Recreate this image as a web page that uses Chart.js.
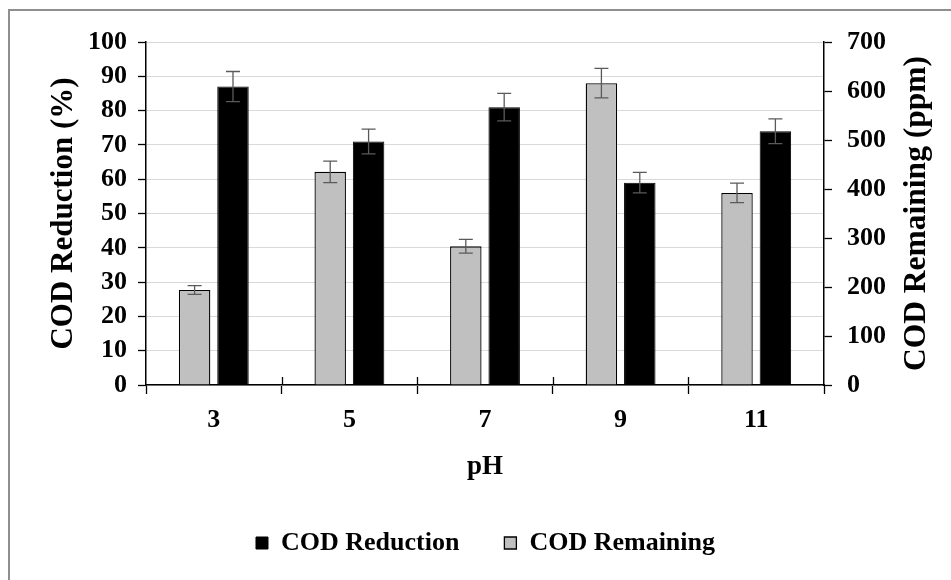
<!DOCTYPE html>
<html>
<head>
<meta charset="utf-8">
<title>COD vs pH</title>
<script src="https://cdn.jsdelivr.net/npm/chart.js@4"></script>
<style>
  html, body { margin: 0; padding: 0; background: #fff; overflow: hidden; width: 951px; height: 580px; }
  #frame { position: absolute; left: 8px; top: 9px; right: -80px; bottom: -80px;
           border-top: 2px solid #8f8f8f; border-left: 2px solid #8f8f8f; }
  #chart { position: absolute; left: 0; top: 0; }
</style>
</head>
<body>
<div id="frame"></div>
<canvas id="chart" width="951" height="580"></canvas>
<script>
// ---- data ----
const phLabels = ['3', '5', '7', '9', '11'];
const codReduction = [87, 71, 81, 59, 74];          // %
const codReductionErr = [4.4, 3.6, 4.0, 3.0, 3.6];
const codRemaining = [194, 435, 283, 616, 392];     // ppm
const codRemainingErr = [9, 22, 14, 30, 20];
const leftTicks = { min: 0, max: 100, step: 10 };
const rightTicks = { min: 0, max: 700, step: 100 };

const FONT = '"Liberation Serif", "Times New Roman", serif';
Chart.defaults.color = '#000';
Chart.defaults.font.family = FONT;
Chart.defaults.font.weight = 'bold';

// error bars, drawn from the dataset values through the scales
const errorBars = {
  id: 'errorBars',
  afterDatasetsDraw(chart) {
    const ctx = chart.ctx;
    ctx.save();
    ctx.strokeStyle = '#5a5a5a';
    ctx.lineWidth = 1.3;
    chart.data.datasets.forEach((ds, di) => {
      const meta = chart.getDatasetMeta(di);
      const yScale = chart.scales[ds.yAxisID];
      meta.data.forEach((bar, i) => {
        const v = ds.data[i], e = ds.errors[i];
        const yTop = yScale.getPixelForValue(v + e);
        const yBot = yScale.getPixelForValue(v - e);
        const x = bar.x, w = 7;
        ctx.beginPath();
        ctx.moveTo(x, yTop); ctx.lineTo(x, yBot);
        ctx.moveTo(x - w, yTop); ctx.lineTo(x + w, yTop);
        ctx.moveTo(x - w, yBot); ctx.lineTo(x + w, yBot);
        ctx.stroke();
      });
    });
    ctx.restore();
  }
};

// upper half of the category-boundary ticks + right title (reads bottom to top)
const extras = {
  id: 'extras',
  afterDraw(chart) {
    const ctx = chart.ctx;
    const x = chart.scales.x, area = chart.chartArea;
    ctx.save();
    ctx.strokeStyle = '#000';
    ctx.lineWidth = 1.3;
    const half = (x.getPixelForValue(1) - x.getPixelForValue(0)) / 2;
    for (let i = 0; i < phLabels.length - 1; i++) {
      const px = Math.round(x.getPixelForValue(i) + half) + 0.5;
      ctx.beginPath();
      ctx.moveTo(px, area.bottom);
      ctx.lineTo(px, area.bottom - 8);
      ctx.stroke();
    }
    const r = chart.scales.y1;
    ctx.translate(r.right - 34, (area.top + area.bottom) / 2);
    ctx.rotate(-Math.PI / 2);
    ctx.fillStyle = '#000';
    ctx.font = 'bold 31.5px ' + FONT;
    ctx.textAlign = 'center';
    ctx.textBaseline = 'middle';
    ctx.fillText('COD Remaining (ppm)', 0, 0);
    ctx.restore();
  }
};

new Chart(document.getElementById('chart'), {
  type: 'bar',
  data: {
    labels: phLabels,
    datasets: [
      {
        label: 'COD Remaining',
        data: codRemaining,
        errors: codRemainingErr,
        yAxisID: 'y1',
        backgroundColor: '#c0c0c0',
        borderColor: '#000',
        borderWidth: 1.3,
        categoryPercentage: 0.566,
        barPercentage: 0.82
      },
      {
        label: 'COD Reduction',
        data: codReduction,
        errors: codReductionErr,
        yAxisID: 'y',
        backgroundColor: '#000',
        borderColor: '#000',
        borderWidth: 1,
        categoryPercentage: 0.566,
        barPercentage: 0.82
      }
    ]
  },
  options: {
    responsive: false,
    animation: false,
    layout: { padding: { left: 20, right: 0, top: 42, bottom: 14 } },
    plugins: {
      tooltip: { enabled: false },
      legend: {
        position: 'bottom',
        labels: {
          sort: (a, b) => b.datasetIndex - a.datasetIndex,
          boxWidth: 12,
          boxHeight: 12,
          padding: 45,
          font: { size: 26, weight: 'bold', family: FONT },
          color: '#000'
        }
      }
    },
    scales: {
      x: {
        grid: { display: true, offset: true, drawOnChartArea: false, tickLength: 9, tickColor: '#000', tickWidth: 1.3 },
        border: { color: '#000', width: 1.5 },
        ticks: { padding: 11, font: { size: 26, weight: 'bold' }, color: '#000' },
        title: { display: true, text: 'pH', font: { size: 27, weight: 'bold' }, color: '#000', padding: { top: 0, bottom: 2 } },
        afterFit: s => { s.height = 100; }
      },
      y: {
        position: 'left',
        min: leftTicks.min, max: leftTicks.max,
        grid: { color: '#d9d9d9', lineWidth: 1, tickLength: 8, tickColor: '#000', tickWidth: 1.3 },
        border: { color: '#000', width: 1.5 },
        ticks: { stepSize: leftTicks.step, autoSkip: false, padding: 11, font: { size: 26, weight: 'bold' }, color: '#000' },
        title: { display: true, text: 'COD Reduction (%)', font: { size: 31, weight: 'bold' }, color: '#000', padding: { top: 25, bottom: 0 } },
        afterFit: s => { s.width = 126; }
      },
      y1: {
        position: 'right',
        min: rightTicks.min, max: rightTicks.max,
        grid: { drawOnChartArea: false, tickLength: 8, tickColor: '#000', tickWidth: 1.3 },
        border: { color: '#000', width: 1.5 },
        ticks: { stepSize: rightTicks.step, autoSkip: false, padding: 15, font: { size: 26, weight: 'bold' }, color: '#000' },
        afterFit: s => { s.width = 127; }
      }
    }
  },
  plugins: [errorBars, extras]
});
</script>
</body>
</html>
